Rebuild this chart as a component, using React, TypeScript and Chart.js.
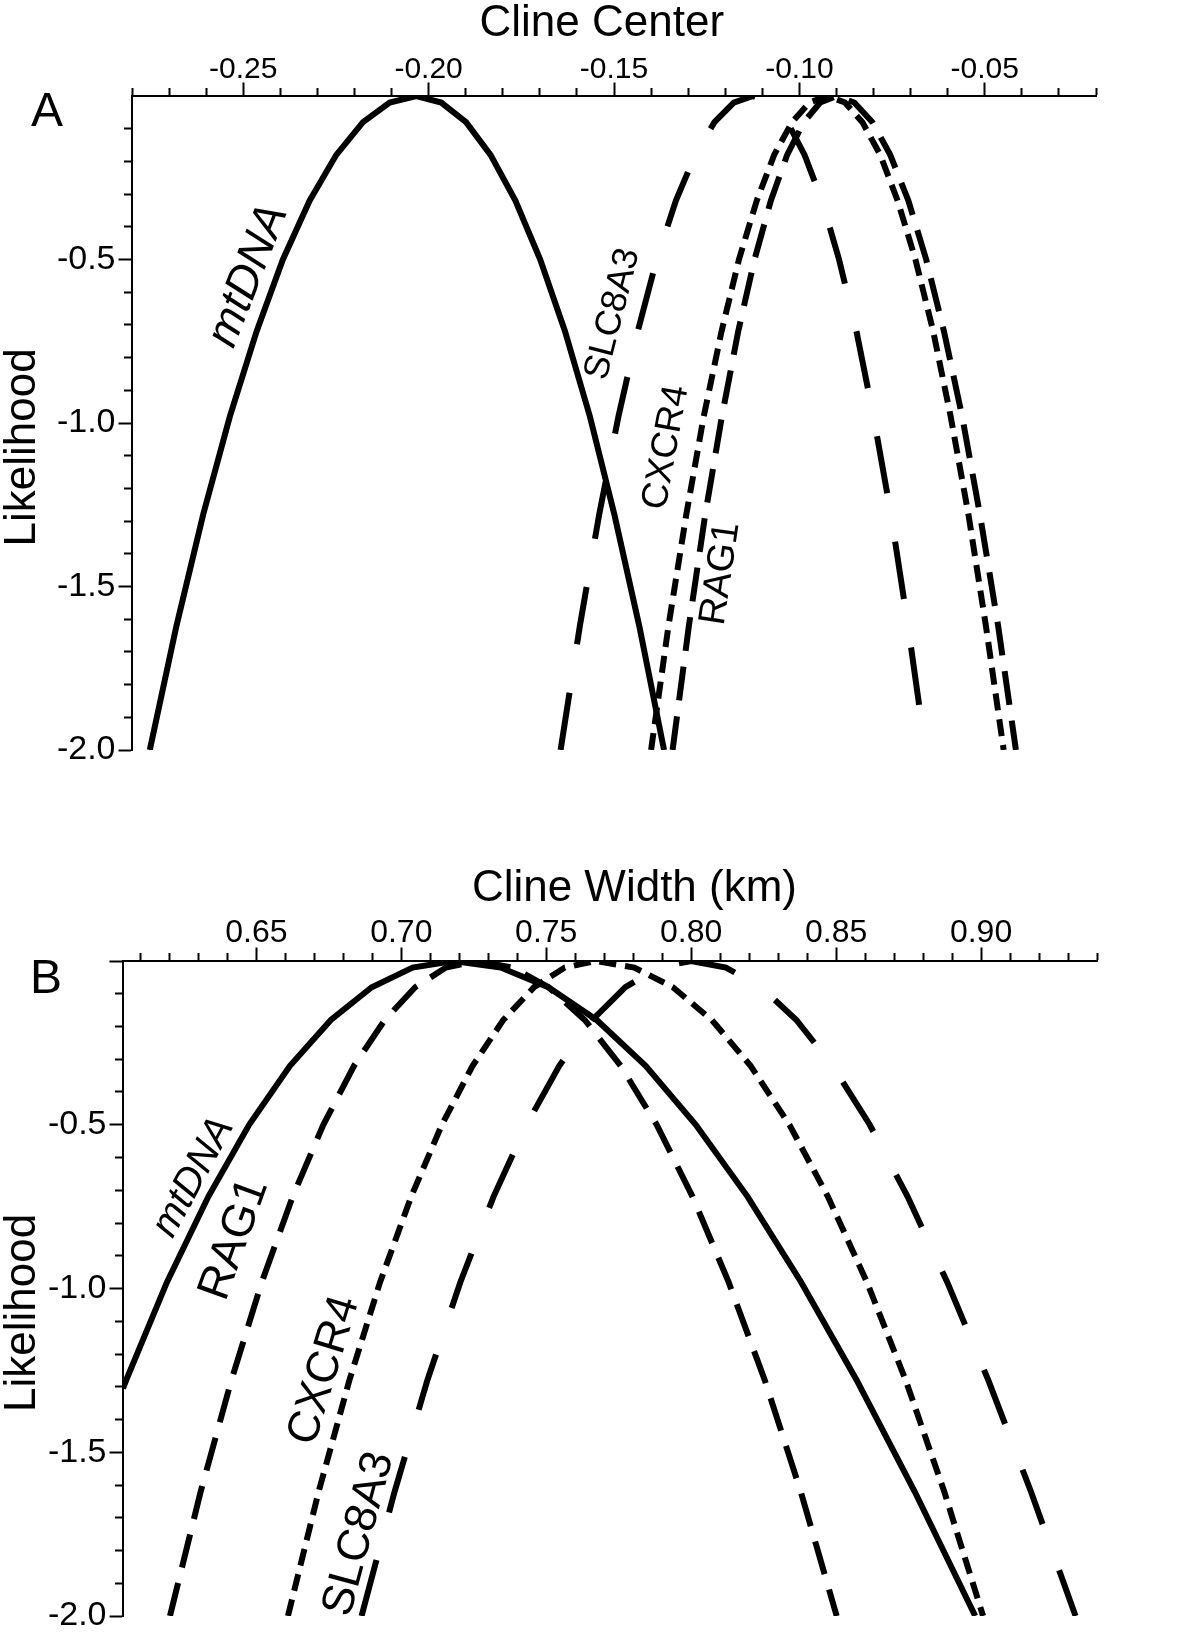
import React, { useEffect, useRef } from "react";
import { Chart, registerables } from "chart.js";

Chart.register(...registerables);

const FONT = '"Liberation Sans", Arial, Helvetica, sans-serif';

// ---------- Panel A : cline center ----------
const centerAxisMin = -0.28;
const centerAxisMax = -0.02;

const centerMtDNA_x = [-0.2752, -0.268, -0.2608, -0.2536, -0.2464, -0.2393, -0.2321, -0.2249, -0.2177, -0.2105, -0.2033, -0.1966, -0.1899, -0.1833, -0.1766, -0.1699, -0.1632, -0.1565, -0.1499, -0.1432, -0.1365];
const centerMtDNA_y = [-2.0, -1.62, -1.28, -0.98, -0.72, -0.5, -0.32, -0.18, -0.08, -0.02, 0.0, -0.02, -0.08, -0.18, -0.32, -0.5, -0.72, -0.98, -1.28, -1.62, -2.0];

const centerSLC8A3_x = [-0.1644, -0.1592, -0.154, -0.1488, -0.1436, -0.1385, -0.1333, -0.1281, -0.1229, -0.1177, -0.1125, -0.1079, -0.1032, -0.0986, -0.0939, -0.0893, -0.0846, -0.08, -0.0753, -0.0707, -0.066];
const centerSLC8A3_y = [-2.0, -1.62, -1.28, -0.98, -0.72, -0.5, -0.32, -0.18, -0.08, -0.02, 0.0, -0.02, -0.08, -0.18, -0.32, -0.5, -0.72, -0.98, -1.28, -1.62, -2.0];

const centerCXCR4_x = [-0.14, -0.1353, -0.1305, -0.1258, -0.121, -0.1163, -0.1115, -0.1068, -0.102, -0.0973, -0.0925, -0.0877, -0.083, -0.0782, -0.0735, -0.0687, -0.0639, -0.0592, -0.0544, -0.0497, -0.0449];
const centerCXCR4_y = [-2.0, -1.62, -1.28, -0.98, -0.72, -0.5, -0.32, -0.18, -0.08, -0.02, 0.0, -0.02, -0.08, -0.18, -0.32, -0.5, -0.72, -0.98, -1.28, -1.62, -2.0];

const centerRAG1_x = [-0.1342, -0.1298, -0.1254, -0.1209, -0.1165, -0.1121, -0.1077, -0.1033, -0.0988, -0.0944, -0.09, -0.0852, -0.0803, -0.0755, -0.0706, -0.0658, -0.061, -0.0561, -0.0513, -0.0464, -0.0416];
const centerRAG1_y = [-2.0, -1.62, -1.28, -0.98, -0.72, -0.5, -0.32, -0.18, -0.08, -0.02, 0.0, -0.02, -0.08, -0.18, -0.32, -0.5, -0.72, -0.98, -1.28, -1.62, -2.0];

// ---------- Panel B : cline width ----------
const widthAxisMin = 0.604;
const widthAxisMax = 0.94;

const widthMtDNA_x = [0.604, 0.6051, 0.6192, 0.6334, 0.6475, 0.6616, 0.6757, 0.6898, 0.7039, 0.718, 0.7343, 0.7507, 0.7674, 0.7843, 0.8016, 0.8195, 0.8379, 0.8571, 0.8771, 0.898];
const widthMtDNA_y = [-1.305, -1.28, -0.98, -0.72, -0.5, -0.32, -0.18, -0.08, -0.02, 0.0, -0.02, -0.08, -0.18, -0.32, -0.5, -0.72, -0.98, -1.28, -1.62, -2.0];

const widthRAG1_x = [0.6202, 0.6308, 0.6414, 0.6519, 0.6625, 0.6731, 0.6837, 0.6943, 0.7048, 0.7154, 0.726, 0.7384, 0.7508, 0.7633, 0.7757, 0.7881, 0.8005, 0.8129, 0.8254, 0.8378, 0.8502];
const widthRAG1_y = [-2.0, -1.62, -1.28, -0.98, -0.72, -0.5, -0.32, -0.18, -0.08, -0.02, 0.0, -0.02, -0.08, -0.18, -0.32, -0.5, -0.72, -0.98, -1.28, -1.62, -2.0];

const widthCXCR4_x = [0.6609, 0.6715, 0.6821, 0.6927, 0.7034, 0.714, 0.7246, 0.7352, 0.7458, 0.7564, 0.767, 0.7804, 0.7937, 0.8071, 0.8205, 0.8339, 0.8472, 0.8606, 0.874, 0.8873, 0.9007];
const widthCXCR4_y = [-2.0, -1.62, -1.28, -0.98, -0.72, -0.5, -0.32, -0.18, -0.08, -0.02, 0.0, -0.02, -0.08, -0.18, -0.32, -0.5, -0.72, -0.98, -1.28, -1.62, -2.0];

const widthSLC8A3_x = [0.6863, 0.6977, 0.709, 0.7204, 0.7318, 0.7432, 0.7545, 0.7659, 0.7773, 0.7886, 0.8, 0.812, 0.8241, 0.8363, 0.8488, 0.8616, 0.8747, 0.8883, 0.9025, 0.9172, 0.9326];
const widthSLC8A3_y = [-2.0, -1.62, -1.28, -0.98, -0.72, -0.5, -0.32, -0.18, -0.08, -0.02, 0.0, -0.02, -0.08, -0.18, -0.32, -0.5, -0.72, -0.98, -1.28, -1.62, -2.0];

// ---------- shared axis ----------
const likelihoodMin = -2;
const likelihoodMax = 0;
const xTickStep = 0.01;
const yTickStep = 0.1;

// ---------- styles ----------
const DASH: Record<string, number[]> = {
  mtDNA: [],
  SLC8A3: [58, 49],
  CXCR4: [17, 9],
  RAG1: [34, 16],
};
const MINOR_TICK_DASH = [0, 5.5, 7, 100];

type Pt = { x: number; y: number };
const zip = (xs: number[], ys: number[]): Pt[] => xs.map((x, i) => ({ x, y: ys[i] }));

type LabelSpec = { text: string; x: number; y: number; angle: number; size: number; italic?: boolean };

const isMajorX = (v: number) => Math.abs(Math.round(v * 100)) % 5 === 0;
const isMajorY = (v: number) => Math.abs(Math.round(v * 10)) % 5 === 0;

function makeLabelPlugin(items: LabelSpec[]) {
  return {
    id: "curveLabels",
    afterDatasetsDraw(chart: any) {
      const { ctx, scales } = chart;
      items.forEach((it) => {
        const px = scales.x.getPixelForValue(it.x);
        const py = scales.y.getPixelForValue(it.y);
        ctx.save();
        ctx.translate(px, py);
        ctx.rotate((it.angle * Math.PI) / 180);
        ctx.font = `${it.italic ? "italic " : ""}${it.size}px ${FONT}`;
        ctx.fillStyle = "#000";
        ctx.textAlign = "center";
        ctx.textBaseline = "middle";
        ctx.fillText(it.text, 0, 0);
        ctx.restore();
      });
    },
  };
}

interface PanelSpec {
  xMin: number;
  xMax: number;
  xTitle: string;
  yTitle: string;
  series: { name: string; pts: Pt[] }[];
  labels: LabelSpec[];
  yAxisWidth: number;
  xAxisHeight: number;
  padRight: number;
  padBottom: number;
  showZeroTick: boolean;
  xTickSize: number;
}

function buildChart(canvas: HTMLCanvasElement, spec: PanelSpec) {
  return new Chart(canvas, {
    type: "line",
    data: {
      datasets: spec.series.map((s) => ({
        label: s.name,
        data: s.pts,
        borderColor: "#000",
        borderWidth: 6,
        borderDash: DASH[s.name],
        borderCapStyle: "butt",
        pointRadius: 0,
        pointHoverRadius: 0,
        fill: false,
        tension: 0,
      })),
    },
    options: {
      responsive: false,
      animation: false,
      devicePixelRatio: 1,
      events: [],
      layout: { padding: { left: 0, right: spec.padRight, top: 0, bottom: spec.padBottom } },
      plugins: { legend: { display: false }, tooltip: { enabled: false } },
      scales: {
        x: {
          type: "linear",
          position: "top",
          min: spec.xMin,
          max: spec.xMax,
          afterFit: (s: any) => {
            s.height = spec.xAxisHeight;
          },
          title: {
            display: true,
            text: spec.xTitle,
            color: "#000",
            font: { family: FONT, size: 44, lineHeight: 1 },
            padding: { top: 2, bottom: 0 },
          },
          ticks: {
            stepSize: xTickStep,
            includeBounds: false,
            autoSkip: false,
            maxRotation: 0,
            minRotation: 0,
            padding: -2,
            color: "#000",
            font: { family: FONT, size: spec.xTickSize, lineHeight: 1 },
            callback: (v: any) => {
              const n = Number(v);
              return isMajorX(n) ? n.toFixed(2) : "";
            },
          },
          grid: {
            drawOnChartArea: false,
            drawTicks: true,
            tickLength: 13.5,
            tickWidth: 2,
            tickColor: "#000",
            tickBorderDash: (c: any) => (c.tick && isMajorX(c.tick.value) ? [] : MINOR_TICK_DASH),
            tickBorderDashOffset: 0,
          },
          border: { display: true, color: "#000", width: 2 },
        },
        y: {
          type: "linear",
          position: "left",
          min: likelihoodMin,
          max: likelihoodMax,
          afterFit: (s: any) => {
            s.width = spec.yAxisWidth;
          },
          title: {
            display: true,
            text: spec.yTitle,
            color: "#000",
            font: { family: FONT, size: 44, lineHeight: 1 },
            padding: { top: 1, bottom: 0 },
          },
          ticks: {
            stepSize: yTickStep,
            includeBounds: false,
            autoSkip: false,
            padding: 3,
            color: "#000",
            font: { family: FONT, size: 34, lineHeight: 1 },
            callback: (v: any) => {
              const n = Number(v);
              return isMajorY(n) && Math.abs(n) > 1e-9 ? n.toFixed(1) : "";
            },
          },
          grid: {
            drawOnChartArea: false,
            drawTicks: true,
            tickLength: 13.5,
            tickWidth: 2,
            tickColor: (c: any) =>
              c.tick && Math.abs(c.tick.value) < 1e-9 && !spec.showZeroTick ? "rgba(0,0,0,0)" : "#000",
            tickBorderDash: (c: any) => (c.tick && isMajorY(c.tick.value) ? [] : MINOR_TICK_DASH),
            tickBorderDashOffset: 0,
          },
          border: { display: true, color: "#000", width: 2 },
        },
      },
    } as any,
    plugins: [makeLabelPlugin(spec.labels)],
  });
}

const panelA: PanelSpec = {
  xMin: centerAxisMin,
  xMax: centerAxisMax,
  xTitle: "Cline Center  ",
  yTitle: "Likelihood    ",
  series: [
    { name: "mtDNA", pts: zip(centerMtDNA_x, centerMtDNA_y) },
    { name: "SLC8A3", pts: zip(centerSLC8A3_x, centerSLC8A3_y) },
    { name: "CXCR4", pts: zip(centerCXCR4_x, centerCXCR4_y) },
    { name: "RAG1", pts: zip(centerRAG1_x, centerRAG1_y) },
  ],
  labels: [
    { text: "mtDNA", x: -0.2486, y: -0.55, angle: -68.6, size: 46, italic: true },
    { text: "SLC8A3", x: -0.1503, y: -0.667, angle: -75.7, size: 36 },
    { text: "CXCR4", x: -0.1359, y: -1.075, angle: -79.6, size: 37 },
    { text: "RAG1", x: -0.1212, y: -1.46, angle: -81.6, size: 38 },
  ],
  yAxisWidth: 132,
  xAxisHeight: 96,
  padRight: 104,
  padBottom: 50,
  showZeroTick: false,
  xTickSize: 30,
};

const panelB: PanelSpec = {
  xMin: widthAxisMin,
  xMax: widthAxisMax,
  xTitle: "    Cline Width (km)",
  yTitle: "Likelihood    ",
  series: [
    { name: "mtDNA", pts: zip(widthMtDNA_x, widthMtDNA_y) },
    { name: "RAG1", pts: zip(widthRAG1_x, widthRAG1_y) },
    { name: "CXCR4", pts: zip(widthCXCR4_x, widthCXCR4_y) },
    { name: "SLC8A3", pts: zip(widthSLC8A3_x, widthSLC8A3_y) },
  ],
  labels: [
    { text: "mtDNA", x: 0.6283, y: -0.66, angle: -61.6, size: 40, italic: true },
    { text: "RAG1", x: 0.6425, y: -0.85, angle: -70.2, size: 46 },
    { text: "CXCR4", x: 0.6735, y: -1.25, angle: -73, size: 45 },
    { text: "SLC8A3", x: 0.6855, y: -1.75, angle: -75, size: 45 },
  ],
  yAxisWidth: 123,
  xAxisHeight: 96,
  padRight: 103,
  padBottom: 28,
  showZeroTick: true,
  xTickSize: 32,
};

function Panel({ spec, top, height }: { spec: PanelSpec; top: number; height: number }) {
  const ref = useRef<HTMLCanvasElement | null>(null);
  useEffect(() => {
    if (!ref.current) return;
    const chart = buildChart(ref.current, spec);
    return () => chart.destroy();
  }, [spec]);
  return (
    <canvas
      ref={ref}
      width={1200}
      height={height}
      style={{ position: "absolute", left: 0, top, width: 1200, height }}
    />
  );
}

const letterStyle: React.CSSProperties = {
  position: "absolute",
  fontFamily: FONT,
  fontSize: 48,
  lineHeight: 1,
  color: "#000",
};

export default function App() {
  return (
    <div style={{ position: "absolute", left: 0, top: 0, width: 1200, height: 1644, background: "#fff" }}>
      <Panel spec={panelA} top={0} height={800} />
      <Panel spec={panelB} top={865} height={779} />
      <div style={{ ...letterStyle, left: 31, top: 86 }}>A</div>
      <div style={{ ...letterStyle, left: 30, top: 953 }}>B</div>
    </div>
  );
}
